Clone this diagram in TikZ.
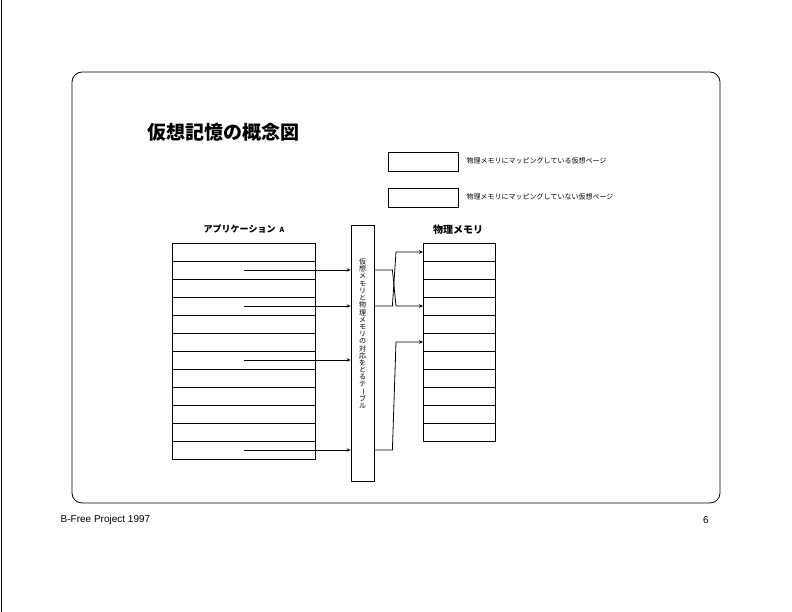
\documentclass[tikz,border=0pt]{standalone}
\usepackage{fontspec}
\setmainfont{Liberation Sans}
\newfontfamily\jp{Noto Sans CJK JP}
\usepackage{tikz}
\usetikzlibrary{arrows.meta}

\tikzset{
  cell/.style={draw, inner sep=0pt, outer sep=0pt, minimum height=18pt},
  arr/.style={-{Stealth[length=4pt,width=3.5pt]}},
}

\begin{document}
\begin{tikzpicture}[x=1pt, y=-1pt, line width=0.8pt]
    \useasboundingbox (0,0) rectangle (792,612);
    \draw (1.5,0) -- (1.5,612);
    \draw[rounded corners=10pt] (72,72) rectangle (720,503);

    \node[font=\jp\bfseries\fontsize{19}{19}\selectfont, anchor=west] (title) at (144,132) {仮想記憶の概念図};

    % legend
    \node[cell, minimum width=70pt, minimum height=19pt] (mapped) at (423,161.5) {};
    \node[cell, minimum width=70pt, minimum height=19pt] (unmapped) at (423,197.5) {};
    \node[font=\jp\fontsize{7}{7}\selectfont, anchor=west] (mappedtxt) at (463,161) {物理メモリにマッピングしている仮想ページ};
    \node[font=\jp\fontsize{7}{7}\selectfont, anchor=west] (unmappedtxt) at (463,197) {物理メモリにマッピングしていない仮想ページ};

    % application
    \node[font=\jp\bfseries\fontsize{9}{9}\selectfont] (applabel) at (244,229) {アプリケーション\ \ {\fontsize{7}{7}\selectfont A}};
    \foreach \i in {1,...,12}
      \node[cell, minimum width=143pt] (app\i) at (243.5,{243+(\i-0.5)*18}) {};

    % translation table
    \node[draw, inner sep=0pt, minimum width=23pt, minimum height=256pt] (tbl) at (362.5,353) {};
    \foreach \c [count=\i] in {仮,想,メ,モ,リ,と,物,理,メ,モ,リ,の,対,応,を,と,る,テ,{\rotatebox{-90}{ー}},ブ,ル}
      \node[font=\jp\fontsize{7}{7}\selectfont, inner sep=0pt] (ch\i) at (362.5,{262+(\i-1)*7.2}) {\c};

    % physical memory
    \node[font=\jp\bfseries\fontsize{10}{10}\selectfont] (memlabel) at (458,230) {物理メモリ};
    \foreach \i in {1,...,11}
      \node[cell, minimum width=72pt] (mem\i) at (459,{243+(\i-0.5)*18}) {};

    \draw[arr] (app2.center) -- (tbl.west |- app2.center);
    \draw[arr] (app4.center) -- (tbl.west |- app4.center);
    \draw[arr] (app7.center) -- (tbl.west |- app7.center);
    \draw[arr] (app12.center) -- (tbl.west |- app12.center);

    \draw[arr] (tbl.east |- app2.center) -- ++(18,0) -- ([xshift=-27pt]mem4.west) -- (mem4.west);
    \draw[arr] (tbl.east |- app4.center) -- ++(18,0) -- ([xshift=-27pt]mem1.west) -- (mem1.west);
    \draw[arr] (tbl.east |- app12.center) -- ++(18,0) -- ([xshift=-27pt]mem6.west) -- (mem6.west);

    % footer
    \node[font=\fontsize{10}{10}\selectfont, anchor=west] (proj) at (57,520) {B-Free Project 1997};
    \node[font=\fontsize{10}{10}\selectfont] (page) at (706,520) {6};
  \end{tikzpicture}
\end{document}
